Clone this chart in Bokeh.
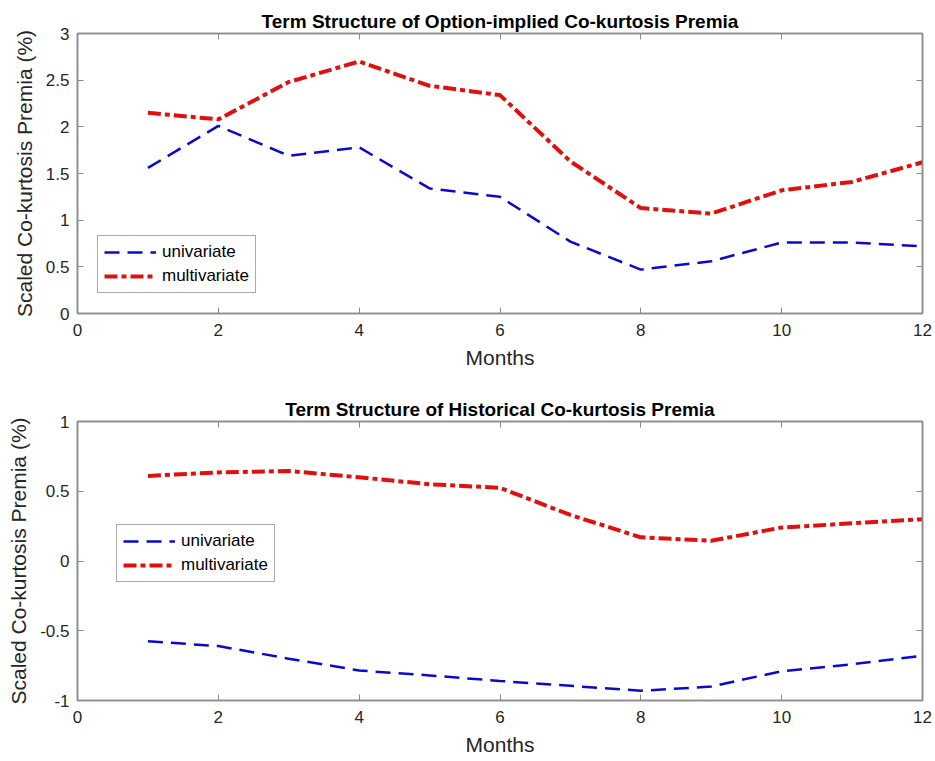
from bokeh.plotting import figure
from bokeh.layouts import column
from bokeh.models import Range1d, FixedTicker, LinearAxis, Legend, LegendItem
from bokeh.embed import file_html
from bokeh.resources import INLINE

# Maturities in months
months = [1, 2, 3, 4, 5, 6, 7, 8, 9, 10, 11, 12]

# Option-implied co-kurtosis premia (%)
opt_univariate = [1.56, 2.01, 1.69, 1.78, 1.34, 1.25, 0.77, 0.47, 0.56, 0.76, 0.76, 0.72]
opt_multivariate = [2.15, 2.08, 2.48, 2.70, 2.44, 2.34, 1.63, 1.13, 1.07, 1.32, 1.41, 1.62]

# Historical co-kurtosis premia (%)
hist_univariate = [-0.575, -0.61, -0.70, -0.785, -0.82, -0.86, -0.895, -0.93, -0.90, -0.79, -0.74, -0.68]
hist_multivariate = [0.61, 0.635, 0.645, 0.60, 0.55, 0.525, 0.33, 0.17, 0.145, 0.24, 0.27, 0.30]

x_ticks = [0, 2, 4, 6, 8, 10, 12]
top_y_ticks = [0, 0.5, 1, 1.5, 2, 2.5, 3]
bottom_y_ticks = [-1, -0.5, 0, 0.5, 1]

FONT = "Liberation Sans"
AXIS_GREY = "#8a8a8a"
TEXT_DARK = "#262626"
BLUE = "#0a0acc"
RED = "#e01010"


def fmt(v):
    return "%g" % v


def mirror_axis(ticks):
    # tick marks only, pointing into the frame, no labels
    return LinearAxis(ticker=FixedTicker(ticks=ticks),
                      major_label_overrides={t: "" for t in ticks},
                      axis_line_color=AXIS_GREY, axis_line_width=1.5,
                      major_tick_line_color=AXIS_GREY,
                      major_tick_in=6, major_tick_out=0, minor_tick_line_color=None,
                      major_label_standoff=0)


def make_panel(title, uni, multi, yr, yticks, height, border_top, border_bottom, legend_loc):
    p = figure(width=935, height=height, output_backend="svg", toolbar_location=None,
               x_range=Range1d(0, 12), y_range=Range1d(*yr),
               min_border_left=77, min_border_right=13,
               min_border_top=border_top, min_border_bottom=border_bottom)
    p.title.text = title
    p.title.align = "center"
    p.title.text_font = FONT
    p.title.text_font_size = "19px"
    p.title.text_font_style = "bold"
    p.title.text_color = "#000000"
    p.title.offset = 0
    p.title.standoff = 3

    p.grid.visible = False
    p.outline_line_color = AXIS_GREY
    p.outline_line_width = 1.5
    p.background_fill_color = "white"
    p.border_fill_color = "white"

    for ax in (p.xaxis[0], p.yaxis[0]):
        ax.axis_line_color = AXIS_GREY
        ax.axis_line_width = 1.5
        ax.major_tick_line_color = AXIS_GREY
        ax.major_tick_in = 6
        ax.major_tick_out = 0
        ax.minor_tick_line_color = None
        ax.major_label_text_font = FONT
        ax.major_label_text_font_size = "17px"
        ax.major_label_text_color = TEXT_DARK
        ax.axis_label_text_font = FONT
        ax.axis_label_text_font_size = "21px"
        ax.axis_label_text_font_style = "normal"
        ax.axis_label_text_color = TEXT_DARK

    p.xaxis.ticker = FixedTicker(ticks=x_ticks)
    p.xaxis.major_label_overrides = {t: fmt(t) for t in x_ticks}
    p.xaxis.axis_label = "Months"
    p.xaxis.major_label_standoff = 10
    p.xaxis.axis_label_standoff = 7

    p.yaxis.ticker = FixedTicker(ticks=yticks)
    p.yaxis.major_label_overrides = {t: fmt(t) for t in yticks}
    p.yaxis.axis_label = "Scaled Co-kurtosis Premia (%)"
    p.yaxis.major_label_standoff = 8
    p.yaxis.axis_label_standoff = 7

    p.add_layout(mirror_axis(x_ticks), "above")
    p.add_layout(mirror_axis(yticks), "right")

    r_uni = p.line(months, uni, line_color=BLUE, line_width=2.5, line_dash="15 8")
    r_multi = p.line(months, multi, line_color=RED, line_width=4, line_dash="13 4 5 4")

    legend = Legend(items=[LegendItem(label="univariate", renderers=[r_uni]),
                           LegendItem(label="multivariate", renderers=[r_multi])],
                    location=legend_loc)
    legend.label_text_font = FONT
    legend.label_text_font_size = "17px"
    legend.label_text_color = "#000000"
    legend.glyph_width = 52
    legend.glyph_height = 20
    legend.label_height = 20
    legend.label_standoff = 6
    legend.spacing = 4
    legend.padding = 6
    legend.margin = 0
    legend.border_line_color = "#555555"
    legend.border_line_width = 1
    legend.background_fill_alpha = 1
    p.add_layout(legend, "center")
    return p


p1 = make_panel("Term Structure of Option-implied Co-kurtosis Premia",
                opt_univariate, opt_multivariate, (0, 3), top_y_ticks,
                380, 33, 67, (20, 20))
p2 = make_panel("Term Structure of Historical Co-kurtosis Premia",
                hist_univariate, hist_multivariate, (-1, 1), bottom_y_ticks,
                381, 41, 61, (39, 118))

layout = column(p1, p2, spacing=0)
open("out.html", "w").write(file_html(layout, INLINE))
